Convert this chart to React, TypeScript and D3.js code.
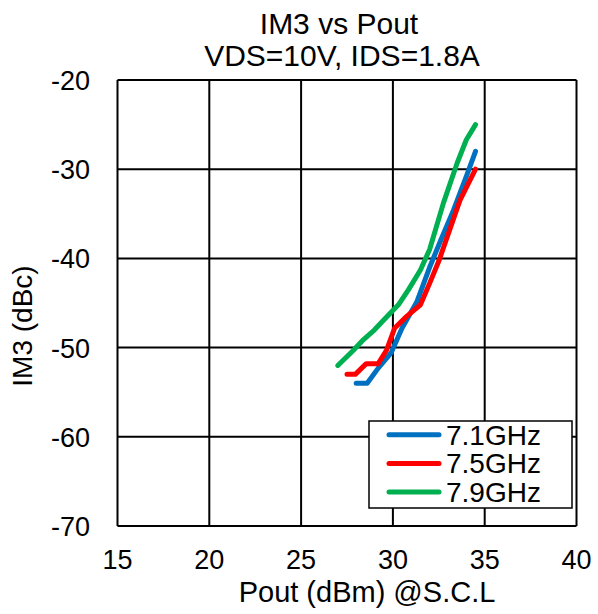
import React, { useEffect, useRef } from 'react';
import * as d3 from 'd3';

// Pout (dBm) vs IM3 (dBc)
const blueData: [number, number][] = [
  [28, -54], [28.6, -54], [29.2, -52.3], [29.9, -50.6], [30.5, -47.8], [31.3, -44.9],
  [32.0, -41], [32.6, -38], [33.3, -34.6], [34.0, -30.8], [34.5, -28],
];
const redData: [number, number][] = [
  [27.5, -53], [27.95, -53], [28.55, -51.8], [29.2, -51.8], [29.65, -50.3], [30.1, -47.8],
  [30.75, -46.5], [31.5, -45.2], [32.0, -42.8], [32.5, -40.3], [33.65, -33.5], [34.5, -30],
];
const greenData: [number, number][] = [
  [27, -52], [27.85, -50.3], [28.4, -49.1], [29.0, -48], [29.5, -46.9], [30.3, -45.2],
  [30.85, -43.5], [31.5, -41.3], [32.0, -39], [32.75, -33.8], [33.5, -29.3], [34.0, -26.7], [34.5, -25],
];

const seriesNames = ['7.1GHz', '7.5GHz', '7.9GHz'];
const seriesColors = ['#0070C0', '#FF0000', '#00B050'];
const xTicks = [15, 20, 25, 30, 35, 40];
const yTicks = [-20, -30, -40, -50, -60, -70];

const App = () => {
  const svgRef = useRef<SVGSVGElement>(null);

  useEffect(() => {
    const width = 598;
    const height = 614;
    const margin = { top: 80, right: 21.5, bottom: 88, left: 117.5 };
    const svg = d3.select(svgRef.current);
    svg.selectAll('*').remove();
    svg.attr('width', width).attr('height', height);
    const font = 'Liberation Sans, Arial, sans-serif';

    const x = d3.scaleLinear().domain([15, 40]).range([margin.left, width - margin.right]);
    const y = d3.scaleLinear().domain([-70, -20]).range([height - margin.bottom, margin.top]);

    // Title
    const title = svg.append('text')
      .attr('text-anchor', 'middle')
      .style('font-family', font)
      .style('font-size', '30px');
    title.append('tspan').attr('x', 339).attr('y', 34).text('IM3  vs  Pout');
    title.append('tspan').attr('x', 342).attr('y', 66).text('VDS=10V, IDS=1.8A');

    // Grid
    svg.append('g').selectAll('line')
      .data(xTicks)
      .enter()
      .append('line')
      .attr('x1', d => x(d)).attr('x2', d => x(d))
      .attr('y1', y(-20)).attr('y2', y(-70))
      .attr('stroke', '#000').attr('stroke-width', 2);
    svg.append('g').selectAll('line')
      .data(yTicks)
      .enter()
      .append('line')
      .attr('x1', x(15)).attr('x2', x(40))
      .attr('y1', d => y(d)).attr('y2', d => y(d))
      .attr('stroke', '#000').attr('stroke-width', 2);

    // Tick labels
    svg.append('g').selectAll('text')
      .data(xTicks)
      .enter()
      .append('text')
      .attr('x', d => x(d))
      .attr('y', 569)
      .attr('text-anchor', 'middle')
      .style('font-family', font)
      .style('font-size', '27px')
      .text(d => d);
    svg.append('g').selectAll('text')
      .data(yTicks)
      .enter()
      .append('text')
      .attr('x', 90)
      .attr('y', d => y(d) + 10)
      .attr('text-anchor', 'end')
      .style('font-family', font)
      .style('font-size', '27px')
      .text(d => d);

    // Axis labels
    svg.append('text')
      .attr('x', 367)
      .attr('y', 602)
      .attr('text-anchor', 'middle')
      .style('font-family', font)
      .style('font-size', '29px')
      .text('Pout (dBm) @S.C.L');
    svg.append('text')
      .attr('transform', 'translate(32,326) rotate(-90)')
      .attr('text-anchor', 'middle')
      .style('font-family', font)
      .style('font-size', '28px')
      .text('IM3  (dBc)');

    // Lines
    const line = d3.line<[number, number]>()
      .x(d => x(d[0]))
      .y(d => y(d[1]));
    const allSeries = [greenData, blueData, redData];
    const colorOrder = [seriesColors[2], seriesColors[0], seriesColors[1]];
    allSeries.forEach((s, i) => {
      svg.append('path')
        .datum(s)
        .attr('d', line)
        .attr('fill', 'none')
        .attr('stroke', colorOrder[i])
        .attr('stroke-width', 5)
        .attr('stroke-linecap', 'round')
        .attr('stroke-linejoin', 'round');
    });

    // Legend
    const legend = svg.append('g');
    legend.append('rect')
      .attr('x', 369).attr('y', 421)
      .attr('width', 203).attr('height', 87)
      .attr('fill', '#fff')
      .attr('stroke', '#000')
      .attr('stroke-width', 1.5);
    seriesNames.forEach((name, i) => {
      const ly = 434.7 + i * 28.7;
      legend.append('line')
        .attr('x1', 389).attr('x2', 439)
        .attr('y1', ly).attr('y2', ly)
        .attr('stroke', seriesColors[i])
        .attr('stroke-width', 5)
        .attr('stroke-linecap', 'round');
      legend.append('text')
        .attr('x', 446)
        .attr('y', ly + 10)
        .style('font-family', font)
        .style('font-size', '28px')
        .text(name);
    });
  }, []);

  return (
    <div style={{ position: 'absolute', left: 0, top: 0 }}>
      <svg ref={svgRef} style={{ display: 'block', background: '#fff' }} />
    </div>
  );
};

export default App;
